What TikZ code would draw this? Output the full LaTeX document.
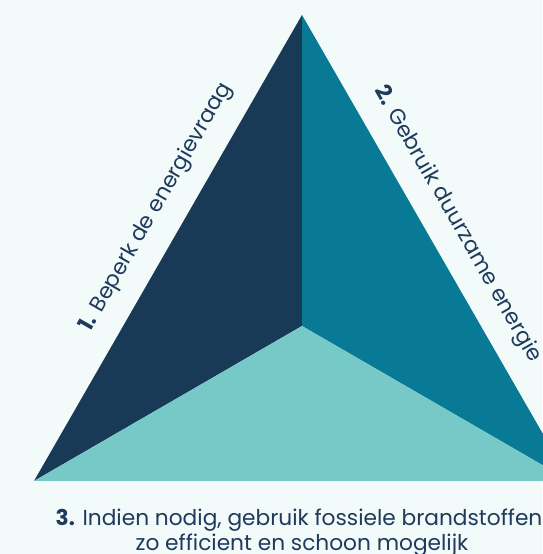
\documentclass[tikz,border=0pt]{standalone}
\usepackage{fontspec}
\setmainfont{Poppins}
\definecolor{bg}{HTML}{F3FBFA}
\definecolor{navy}{HTML}{193A57}
\definecolor{tealc}{HTML}{087A95}
\definecolor{lightc}{HTML}{77C9C7}
\definecolor{txt}{HTML}{1E3A5C}
\tikzset{
  lab/.style={text=txt, font=\fontsize{21.7}{25}\selectfont, inner sep=0pt},
}
\begin{document}
\begin{tikzpicture}[x=1pt,y=1pt]
\useasboundingbox (0,0) rectangle (542,554);
\fill[bg] (0,0) rectangle (542,554);
\coordinate (A) at (302,539);
\coordinate (L) at (34,73);
\coordinate (R) at (570,73);
\coordinate (C) at (302,228);
\fill[navy] (A) -- (L) -- (C) -- cycle;
\fill[tealc] (A) -- (C) -- (R) -- cycle;
\fill[lightc] (L) -- (R) -- (C) -- cycle;
\path (L) -- (A) node[lab, pos=0.555, sloped, anchor=base, yshift=25pt] (t1) {\textbf{1.} Beperk de energievraag};
\path (A) -- (R) node[lab, pos=0.482, sloped, anchor=base, yshift=25pt] (t2) {\textbf{2.} Gebruik duurzame energie};
\node[lab, anchor=base] (b1) at (299,28) {\textbf{3.} Indien nodig, gebruik fossiele brandstoffen};
\node[lab, anchor=base] (b2) at (302,3) {zo efficient en schoon mogelijk};
\end{tikzpicture}
\end{document}
